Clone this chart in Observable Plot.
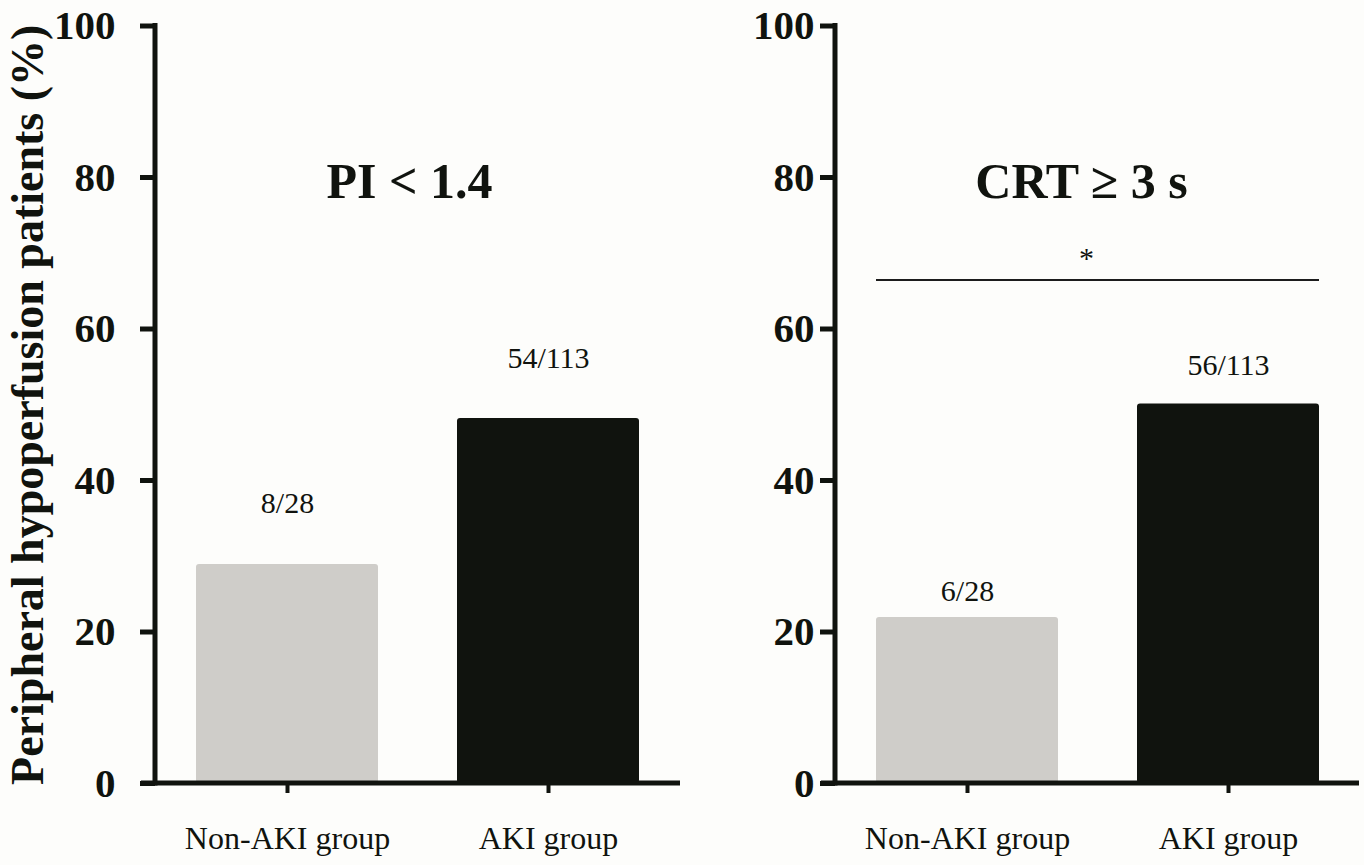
<!DOCTYPE html>
<html>
<head>
<meta charset="utf-8">
<script src="https://cdn.jsdelivr.net/npm/d3@7"></script>
<script src="https://cdn.jsdelivr.net/npm/@observablehq/plot@0.6"></script>
<style>
  html, body { margin: 0; padding: 0; background: #fdfdfb; }
  #wrap { position: relative; width: 1364px; height: 865px; overflow: hidden; background: #fdfdfb; }
  #wrap > svg { position: absolute; top: 0; overflow: visible; }
</style>
</head>
<body>
<div id="wrap"></div>
<script>
// ---- data ----
const groups = ["Non-AKI group", "AKI group"];
const piValues = [28.9, 48.2];
const piLabels = ["8/28", "54/113"];
const crtValues = [21.9, 50.1];
const crtLabels = ["6/28", "56/113"];
const yTicks = [0, 20, 40, 60, 80, 100];
const panelTitles = ["PI < 1.4", "CRT \u2265 3 s"];
const yLabel = "Peripheral hypoperfusion patients (%)";
const sigLevel = 66.4;
const sigText = "*";

// ---- style ----
const ink = "#10130e";
const barColors = ["#cfcdc9", "#10130e"];
const serif = "'Liberation Serif', 'Times New Roman', Times, serif";

function bandInfo(scales) {
  const x = scales.x;
  let bw = 0;
  if (x && typeof x.bandwidth === "function") bw = x.bandwidth();
  else if (scales.scales && scales.scales.x && scales.scales.x.bandwidth != null) bw = scales.scales.x.bandwidth;
  return {x, bw};
}

function axisLines(index, scales, values, dims) {
  const y = scales.y;
  const g = d3.create("svg:g").attr("stroke", ink).attr("stroke-width", 5).attr("fill", "none");
  const x0 = dims.marginLeft, xr = dims.width - dims.marginRight;
  const y0 = y(yTicks[0]), y1 = y(yTicks[yTicks.length - 1]);
  g.append("path").attr("d", `M${x0},${y1 - 2.5}V${y0 + 2.5}`);
  g.append("path").attr("d", `M${x0 - 14},${y0}H${xr}`);
  return g.node();
}

function sigBracket(index, scales) {
  const {x, bw} = bandInfo(scales);
  const x1 = x(groups[0]), x2 = x(groups[1]) + bw, yy = scales.y(sigLevel);
  const g = d3.create("svg:g");
  g.append("path").attr("d", `M${x1},${yy}H${x2}`).attr("stroke", "#1c1c1c").attr("stroke-width", 1.8).attr("fill", "none");
  g.append("text").attr("x", (x1 + x2) / 2 - 11).attr("y", yy - 12)
    .attr("text-anchor", "middle").attr("font-family", serif).attr("font-size", 30).attr("fill", ink)
    .text(sigText);
  return g.node();
}

function makePanel({values, labels, title, labelDy, tickPadding, titleDx, width, marginRight, withYLabel, withSig}) {
  const rows = groups.map((g, i) => ({group: g, value: values[i], label: labels[i]}));
  const marks = [
    Plot.barY(rows, {x: "group", y: "value", fill: "group", rx: 3}),
    axisLines,
    Plot.axisY({ticks: yTicks, tickSize: 15, tickPadding, strokeWidth: 5, fontSize: 41, fontWeight: "bold", fontFamily: serif, label: null, color: ink, tickFormat: d => String(d)}),
    Plot.axisX({tickSize: 10, tickPadding: 33, strokeWidth: 4, fontSize: 32, fontFamily: serif, label: null, color: ink}),
    Plot.text([title], {text: d => d, frameAnchor: "top", lineAnchor: "top", dy: 136, dx: titleDx, fontSize: 50, fontWeight: "bold", fill: ink})
  ];
  rows.forEach((r, i) => {
    marks.push(Plot.text([r], {x: "group", y: "value", text: "label", lineAnchor: "bottom", dy: labelDy[i], fontSize: 30, fill: ink}));
  });
  if (withYLabel) {
    marks.push(Plot.text([yLabel], {text: d => d, frameAnchor: "left", textAnchor: "middle", dx: -127, rotate: -90, fontSize: 46, fontWeight: "bold", fill: ink}));
  }
  if (withSig) marks.push(sigBracket);
  return Plot.plot({
    width, height: 865,
    marginLeft: 155, marginRight, marginTop: 25.5, marginBottom: 82,
    x: {domain: groups, paddingInner: 0.304, paddingOuter: 0.155, axis: null},
    y: {domain: [yTicks[0], yTicks[yTicks.length - 1]], axis: null},
    color: {domain: groups, range: barColors},
    style: {background: "transparent", fontFamily: serif, color: ink, overflow: "visible"},
    marks
  });
}

const wrap = document.getElementById("wrap");
const left = makePanel({values: piValues, labels: piLabels, title: panelTitles[0], labelDy: [-52, -50], tickPadding: 25, titleDx: -8.5, width: 690, marginRight: 10, withYLabel: true, withSig: false});
left.style.left = "0px";
const right = makePanel({values: crtValues, labels: crtLabels, title: panelTitles[1], labelDy: [-17, -29], tickPadding: 6, titleDx: -16, width: 684, marginRight: 5, withYLabel: false, withSig: true});
right.style.left = "680px";
wrap.appendChild(left);
wrap.appendChild(right);
</script>
</body>
</html>
